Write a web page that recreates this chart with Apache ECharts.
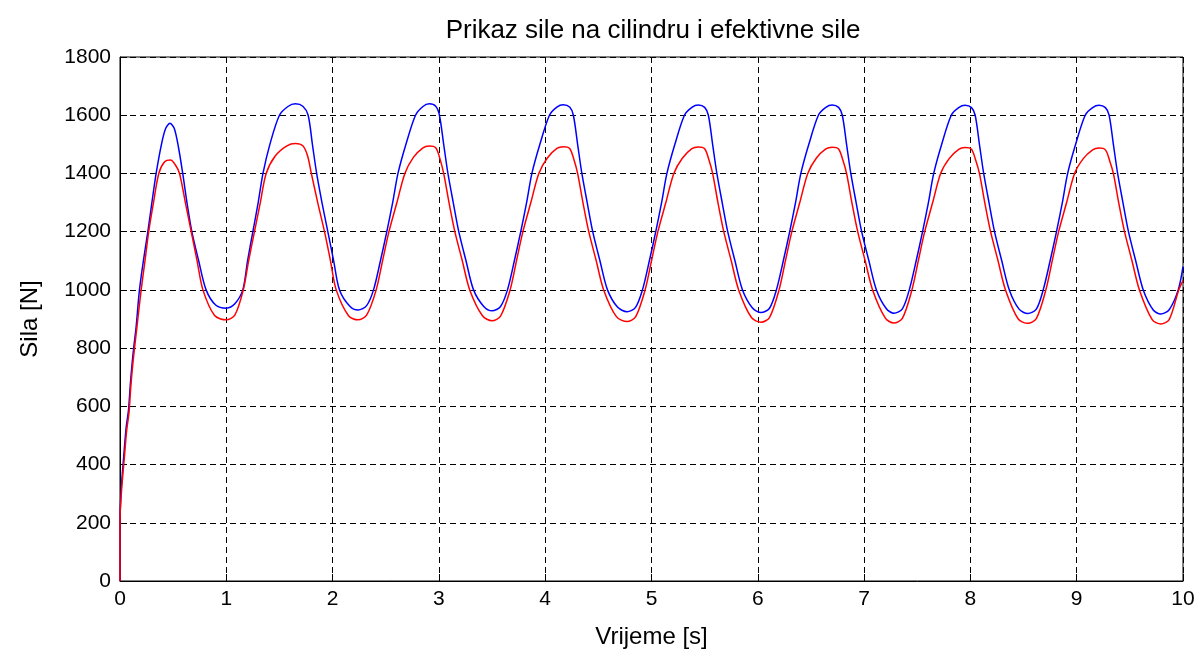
<!DOCTYPE html>
<html>
<head>
<meta charset="utf-8">
<script src="https://cdn.jsdelivr.net/npm/echarts@6/dist/echarts.min.js"></script>
<style>
  html, body { margin: 0; padding: 0; background: #ffffff; }
  #chart { width: 1201px; height: 654px; }
</style>
</head>
<body>
<div id="chart"></div>
<script>
// Chart texts
var titleText = 'Prikaz sile na cilindru i efektivne sile';
var xName = 'Vrijeme [s]';
var yName = 'Sila [N]';

// Axis ranges / ticks
var xTicks = [0, 1, 2, 3, 4, 5, 6, 7, 8, 9, 10];
var yTicks = [0, 200, 400, 600, 800, 1000, 1200, 1400, 1600, 1800];

// Blue series: force on cylinder  [time s, force N]
var silaCilindar = [
  [0, 0], [0, 205], [0.011, 313], [0.036, 433], [0.058, 528], [0.08, 587], [0.096, 670],
  [0.111, 736], [0.13, 805], [0.152, 874], [0.183, 1000], [0.22, 1100], [0.262, 1200],
  [0.30, 1300], [0.34, 1400], [0.39, 1500], [0.43, 1555], [0.47, 1572], [0.51, 1555],
  [0.55, 1490], [0.59, 1400], [0.63, 1300], [0.676, 1200], [0.74, 1100], [0.81, 1000], [0.90, 948],
  // cycle 1
  [1.00, 937], [1.08, 952], [1.155, 1000], [1.20, 1100], [1.25, 1200], [1.30, 1300], [1.345, 1400],
  [1.41, 1500], [1.50, 1600], [1.58, 1630], [1.65, 1639], [1.72, 1631], [1.77, 1600], [1.81, 1500],
  [1.85, 1400], [1.90, 1300], [1.955, 1200], [2.01, 1100], [2.065, 1000], [2.16, 945],
  // cycle 2
  [2.24, 931], [2.32, 946], [2.385, 1000], [2.45, 1100], [2.51, 1200], [2.565, 1300], [2.615, 1400],
  [2.69, 1500], [2.78, 1600], [2.85, 1630], [2.91, 1639], [2.97, 1631], [3.005, 1600], [3.045, 1500],
  [3.085, 1400], [3.135, 1300], [3.187, 1200], [3.255, 1100], [3.326, 1000], [3.42, 944],
  // cycle 3
  [3.50, 928], [3.58, 943], [3.645, 1000], [3.71, 1100], [3.77, 1200], [3.825, 1300], [3.875, 1400],
  [3.95, 1500], [4.04, 1600], [4.11, 1628], [4.17, 1636], [4.23, 1628], [4.265, 1600], [4.305, 1500],
  [4.345, 1400], [4.395, 1300], [4.447, 1200], [4.515, 1100], [4.586, 1000], [4.68, 941],
  // cycle 4
  [4.77, 925], [4.85, 940], [4.915, 1000], [4.98, 1100], [5.04, 1200], [5.095, 1300], [5.145, 1400],
  [5.22, 1500], [5.31, 1600], [5.38, 1627], [5.44, 1635], [5.50, 1627], [5.535, 1600], [5.575, 1500],
  [5.615, 1400], [5.665, 1300], [5.717, 1200], [5.785, 1100], [5.856, 1000], [5.95, 938],
  // cycle 5
  [6.03, 922], [6.11, 937], [6.175, 1000], [6.24, 1100], [6.30, 1200], [6.355, 1300], [6.405, 1400],
  [6.48, 1500], [6.57, 1600], [6.64, 1627], [6.70, 1635], [6.76, 1627], [6.795, 1600], [6.835, 1500],
  [6.875, 1400], [6.925, 1300], [6.977, 1200], [7.045, 1100], [7.116, 1000], [7.21, 935],
  // cycle 6
  [7.28, 920], [7.36, 935], [7.425, 1000], [7.49, 1100], [7.55, 1200], [7.605, 1300], [7.655, 1400],
  [7.73, 1500], [7.82, 1600], [7.89, 1626], [7.95, 1634], [8.01, 1626], [8.045, 1600], [8.085, 1500],
  [8.125, 1400], [8.175, 1300], [8.227, 1200], [8.295, 1100], [8.366, 1000], [8.46, 933],
  // cycle 7
  [8.54, 919], [8.62, 934], [8.685, 1000], [8.75, 1100], [8.81, 1200], [8.865, 1300], [8.915, 1400],
  [8.99, 1500], [9.08, 1600], [9.15, 1626], [9.21, 1634], [9.27, 1626], [9.305, 1600], [9.345, 1500],
  [9.385, 1400], [9.435, 1300], [9.487, 1200], [9.555, 1100], [9.626, 1000], [9.72, 931],
  // end
  [9.79, 917], [9.87, 932], [9.955, 1000], [10.0, 1080]
];

// Red series: effective force  [time s, force N]
var efektivnaSila = [
  [0, 0], [0, 205], [0.015, 313], [0.04, 420], [0.062, 515], [0.085, 580], [0.10, 660],
  [0.115, 725], [0.135, 795], [0.157, 865], [0.199, 1000], [0.235, 1100], [0.27, 1200],
  [0.315, 1300], [0.365, 1400], [0.42, 1440], [0.475, 1446], [0.52, 1430], [0.56, 1400],
  [0.615, 1300], [0.67, 1200], [0.725, 1100], [0.78, 1000], [0.89, 912],
  // cycle 1
  [1.00, 897], [1.08, 913], [1.16, 1000], [1.21, 1100], [1.265, 1200], [1.32, 1300], [1.375, 1400],
  [1.46, 1460], [1.57, 1495], [1.65, 1503], [1.72, 1495], [1.765, 1460], [1.80, 1400], [1.86, 1300],
  [1.924, 1200], [1.98, 1100], [2.034, 1000], [2.15, 911],
  // cycle 2
  [2.24, 897], [2.32, 913], [2.41, 1000], [2.47, 1100], [2.53, 1200], [2.605, 1300], [2.68, 1400],
  [2.76, 1455], [2.85, 1488], [2.91, 1494], [2.97, 1488], [3.01, 1450], [3.045, 1400], [3.095, 1300],
  [3.15, 1200], [3.22, 1100], [3.29, 1000], [3.41, 911],
  // cycle 3
  [3.50, 894], [3.58, 910], [3.67, 1000], [3.73, 1100], [3.79, 1200], [3.865, 1300], [3.94, 1400],
  [4.02, 1453], [4.11, 1486], [4.17, 1492], [4.23, 1486], [4.27, 1448], [4.305, 1400], [4.355, 1300],
  [4.41, 1200], [4.48, 1100], [4.55, 1000], [4.67, 908],
  // cycle 4
  [4.77, 891], [4.85, 907], [4.94, 1000], [5.00, 1100], [5.06, 1200], [5.135, 1300], [5.21, 1400],
  [5.29, 1452], [5.38, 1485], [5.44, 1491], [5.50, 1485], [5.54, 1447], [5.575, 1400], [5.625, 1300],
  [5.68, 1200], [5.75, 1100], [5.82, 1000], [5.94, 905],
  // cycle 5
  [6.03, 889], [6.11, 905], [6.20, 1000], [6.26, 1100], [6.32, 1200], [6.395, 1300], [6.47, 1400],
  [6.55, 1452], [6.64, 1484], [6.70, 1490], [6.76, 1484], [6.80, 1446], [6.835, 1400], [6.885, 1300],
  [6.94, 1200], [7.01, 1100], [7.08, 1000], [7.20, 903],
  // cycle 6
  [7.28, 886], [7.36, 902], [7.45, 1000], [7.51, 1100], [7.57, 1200], [7.645, 1300], [7.72, 1400],
  [7.80, 1451], [7.89, 1483], [7.95, 1489], [8.01, 1483], [8.05, 1445], [8.085, 1400], [8.135, 1300],
  [8.19, 1200], [8.26, 1100], [8.33, 1000], [8.45, 900],
  // cycle 7
  [8.54, 885], [8.62, 901], [8.71, 1000], [8.77, 1100], [8.83, 1200], [8.905, 1300], [8.98, 1400],
  [9.06, 1450], [9.15, 1481], [9.21, 1487], [9.27, 1481], [9.31, 1444], [9.345, 1400], [9.395, 1300],
  [9.45, 1200], [9.52, 1100], [9.59, 1000], [9.71, 898],
  // end
  [9.79, 883], [9.87, 898], [9.96, 1000], [10.0, 1032]
];

var FONT = '"Liberation Sans", Arial, sans-serif';
var chart = echarts.init(document.getElementById('chart'), null, { renderer: 'canvas' });

var gridDash = { type: [6, 4], color: '#000000', width: 1 };

chart.setOption({
  backgroundColor: '#ffffff',
  animation: false,
  title: {
    text: titleText,
    left: 648,
    top: 13,
    textAlign: 'center',
    textStyle: { fontFamily: FONT, fontSize: 26, fontWeight: 'normal', color: '#000000' }
  },
  grid: {
    left: 120, right: 18, top: 57, bottom: 73,
    show: true, borderColor: '#000000', borderWidth: 1, backgroundColor: 'transparent'
  },
  xAxis: {
    type: 'value',
    min: xTicks[0], max: xTicks[xTicks.length - 1], interval: 1,
    name: xName, nameLocation: 'middle', nameGap: 44,
    nameTextStyle: { fontFamily: FONT, fontSize: 24, color: '#000000' },
    axisLine: { show: true, onZero: false, lineStyle: { color: '#000000', width: 1 } },
    axisTick: { show: true, inside: true, length: 7, lineStyle: { color: '#000000' } },
    axisLabel: { fontFamily: FONT, fontSize: 21, color: '#000000', margin: 8,
                 formatter: function (v) { return String(v); } },
    splitLine: { show: true, lineStyle: gridDash }
  },
  yAxis: {
    type: 'value',
    min: yTicks[0], max: yTicks[yTicks.length - 1], interval: 200,
    name: yName, nameLocation: 'middle', nameGap: 78,
    nameTextStyle: { fontFamily: FONT, fontSize: 24, color: '#000000' },
    axisLine: { show: true, onZero: false, lineStyle: { color: '#000000', width: 1 } },
    axisTick: { show: true, inside: true, length: 7, lineStyle: { color: '#000000' } },
    axisLabel: { fontFamily: FONT, fontSize: 21, color: '#000000', margin: 9,
                 formatter: function (v) { return String(v); } },
    splitLine: { show: true, lineStyle: gridDash }
  },
  series: [
    {
      name: 'Sila na cilindru',
      type: 'line',
      data: silaCilindar,
      showSymbol: false,
      smooth: 0.3,
      lineStyle: { color: '#0000ff', width: 1.5 },
      itemStyle: { color: '#0000ff' },
      z: 3
    },
    {
      name: 'Efektivna sila',
      type: 'line',
      data: efektivnaSila,
      showSymbol: false,
      smooth: 0.3,
      lineStyle: { color: '#ff0000', width: 1.5 },
      itemStyle: { color: '#ff0000' },
      z: 4
    }
  ]
});
</script>
</body>
</html>
